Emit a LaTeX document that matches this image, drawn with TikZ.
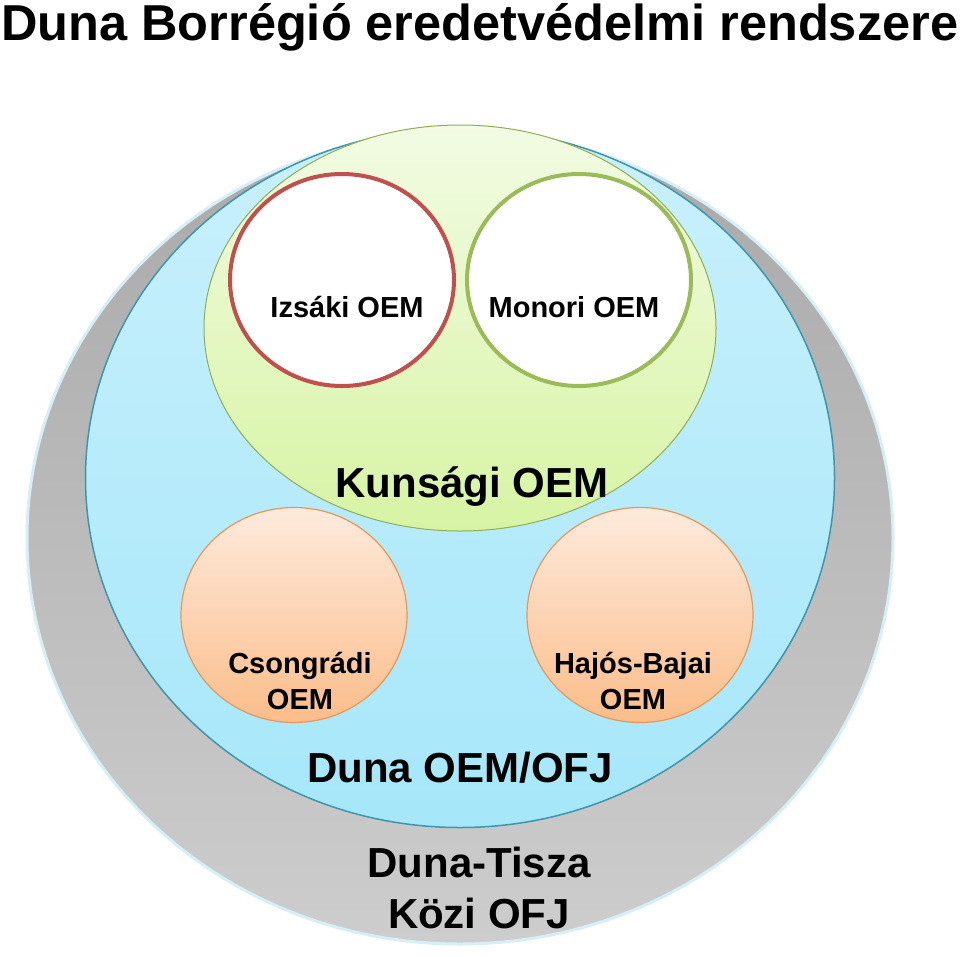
\documentclass[tikz,border=0pt]{standalone}
\usepackage{fontspec}
\setmainfont{Liberation Sans}
\usetikzlibrary{shapes.geometric}

\definecolor{ringtop}{HTML}{A9A9A9}
\definecolor{ringbot}{HTML}{CDCDCD}
\definecolor{ringglow}{HTML}{D6EEF6}
\definecolor{dunatop}{HTML}{C9F0FC}
\definecolor{dunabot}{HTML}{A6E7FA}
\definecolor{dunaline}{HTML}{3E95AE}
\definecolor{kuntop}{HTML}{F2FBE3}
\definecolor{kunbot}{HTML}{D7F4A4}
\definecolor{kunline}{HTML}{8FAE55}
\definecolor{izsline}{HTML}{C0504D}
\definecolor{monline}{HTML}{9BBB59}
\definecolor{peachtop}{HTML}{FDEADC}
\definecolor{peachbot}{HTML}{FBBD8A}
\definecolor{peachline}{HTML}{E5985A}

\begin{document}
\begin{tikzpicture}[
x=1pt, y=-1pt,
region/.style={ellipse, inner sep=0pt},
oem/.style={region, draw=#1, line width=4pt, fill=white, minimum width=224pt, minimum height=212pt},
peach/.style={region, draw=peachline, line width=1.2pt, top color=peachtop, bottom color=peachbot, minimum width=226pt, minimum height=215pt},
lbl/.style={font=\bfseries\fontsize{29}{36}\selectfont, inner sep=0pt, align=center},
biglbl/.style={font=\bfseries\fontsize{42}{51}\selectfont, inner sep=0pt, align=center}
]
\useasboundingbox (0,0) rectangle (960,956);

% nested regions
\node[region, draw=ringglow, line width=3pt, top color=ringtop, bottom color=ringbot, minimum width=866pt, minimum height=812pt] (dtofj) at (460,538) {};
\node[region, draw=dunaline, line width=1.5pt, top color=dunatop, bottom color=dunabot, minimum width=749pt, minimum height=699pt] (duna) at (460,478) {};
\node[region, draw=kunline, line width=1pt, top color=kuntop, bottom color=kunbot, minimum width=512pt, minimum height=406pt] (kunsag) at (460,328) {};
\node[oem=izsline] (izsaki) at (342,280) {};
\node[oem=monline] (monori) at (579,280) {};
\node[peach] (csongrad) at (294,615) {};
\node[peach] (hajos) at (640,615) {};

% labels
\node[font=\bfseries\fontsize{50.5}{60}\selectfont, inner sep=0pt, anchor=base west] (title) at (1,40) {Duna Borrégió eredetvédelmi rendszere};
\node[lbl, anchor=base] (izsakilbl) at (347,317) {Izsáki OEM};
\node[lbl, anchor=base] (monorilbl) at (574,317) {Monori OEM};
\node[biglbl, anchor=base] (kunsaglbl) at (472,497) {Kunsági OEM};
\node[lbl, anchor=base] (csongradlbl) at (300,709) {Csongrádi\\OEM};
\node[lbl, anchor=base] (hajoslbl) at (633,709) {Hajós-Bajai\\OEM};
\node[biglbl, anchor=base] (dunalbl) at (460,782) {Duna OEM/OFJ};
\node[biglbl, anchor=base] (dtofjlbl) at (479,928) {Duna-Tisza\\Közi OFJ};
\end{tikzpicture}
\end{document}
